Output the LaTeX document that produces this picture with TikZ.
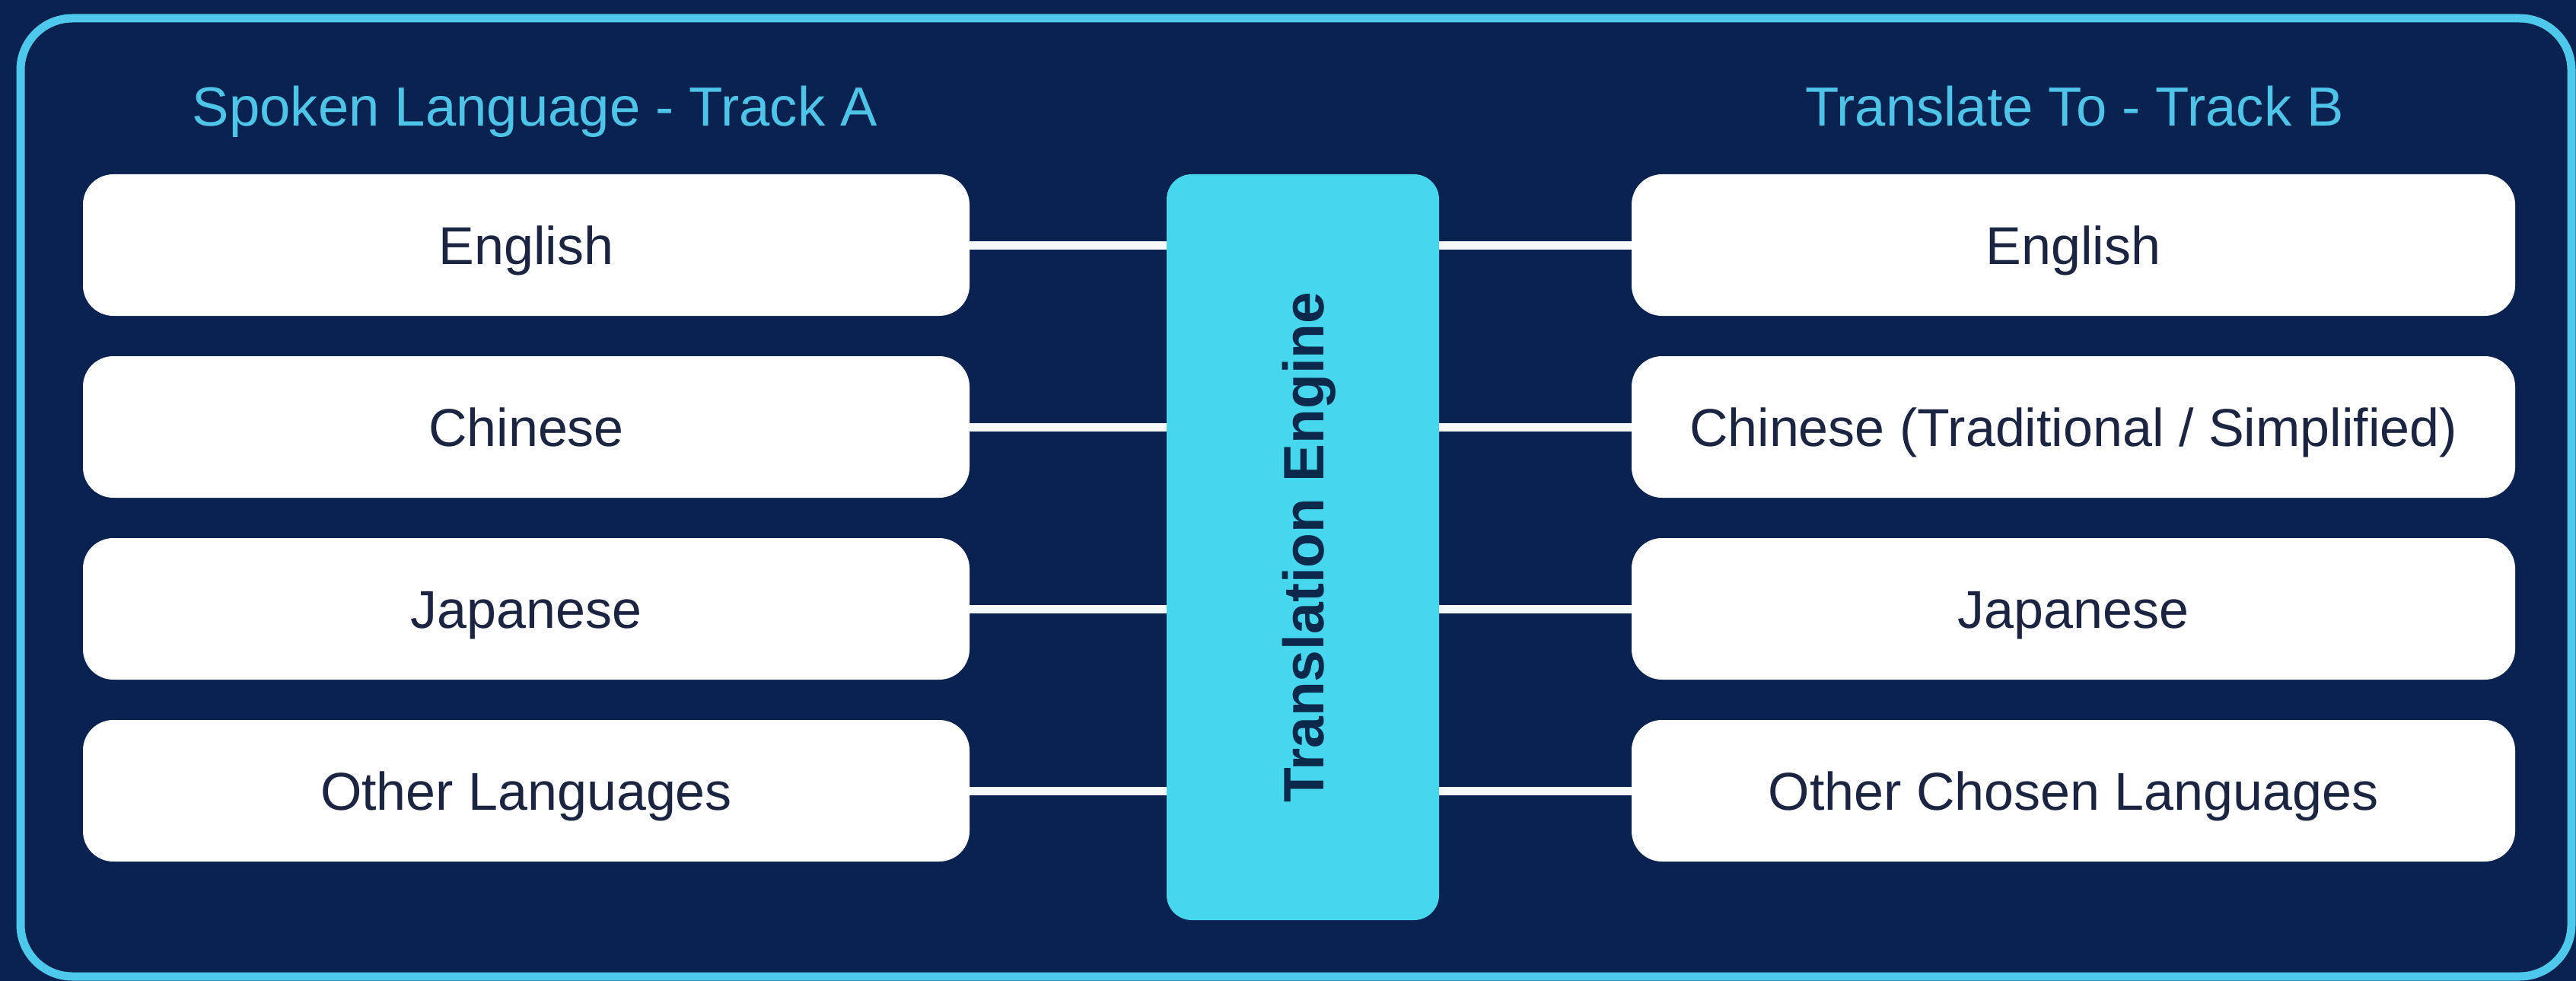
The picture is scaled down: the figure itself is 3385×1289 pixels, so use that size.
\documentclass[tikz,border=0pt]{standalone}
\usepackage{fontspec}
\setmainfont{Liberation Sans}
\definecolor{navy}{RGB}{9,34,80}
\definecolor{cyanline}{RGB}{78,200,235}
\definecolor{engfill}{RGB}{70,214,238}
\definecolor{titlecol}{RGB}{78,196,232}
\definecolor{boxtext}{RGB}{27,37,65}
\definecolor{engtextcol}{RGB}{12,40,74}
\definecolor{connwhite}{RGB}{246,249,252}
\begin{document}
\begin{tikzpicture}[x=1pt,y=-1pt,
  langbox/.style={fill=white, rounded corners=40pt, minimum width=1165pt,
    minimum height=186pt, inner sep=0pt, text height=51pt, text depth=0pt,
    text=boxtext, font=\fontsize{70}{84}\selectfont},
  rlangbox/.style={langbox, minimum width=1161pt},
  engine/.style={fill=engfill, rounded corners=33pt, minimum width=358pt,
    minimum height=980pt, inner sep=0pt},
  engtext/.style={text=engtextcol, inner sep=0pt, text height=54pt, text depth=0pt,
    font=\fontsize{75}{90}\selectfont\bfseries},
  tracktitle/.style={text=titlecol, inner sep=0pt, text height=52pt, text depth=0pt,
    font=\fontsize{72.5}{87}\selectfont},
  conn/.style={draw=connwhite, line width=11pt},
  frameline/.style={draw=cyanline, line width=11pt, rounded corners=68pt}]
\useasboundingbox (0,0) rectangle (3385,1289);
\fill[navy] (0,0) rectangle (3385,1289);
\draw[frameline] (27,24) rectangle (3379,1283);

% titles
\node[tracktitle] (ta) at (703,140) {Spoken Language - Track A};
\node[tracktitle] (tb) at (2726,140) {Translate To - Track B};

% engine
\node[engine] (eng) at (1712,719) {};
\node[engtext, rotate=90] (englabel) at (eng.center) {Translation Engine};

% left boxes
\node[langbox] (l1) at (691.5,322) {English};
\node[langbox] (l2) at (691.5,561) {Chinese};
\node[langbox] (l3) at (691.5,800) {Japanese};
\node[langbox] (l4) at (691.5,1039) {Other Languages};

% right boxes
\node[rlangbox] (r1) at (2724.5,322) {English};
\node[rlangbox] (r2) at (2724.5,561) {Chinese (Traditional / Simplified)};
\node[rlangbox] (r3) at (2724.5,800) {Japanese};
\node[rlangbox] (r4) at (2724.5,1039) {Other Chosen Languages};

% connectors
\foreach \i in {1,2,3,4}{
  \draw[conn] (l\i.east) -- (eng.west |- l\i.east);
  \draw[conn] (eng.east |- r\i.west) -- (r\i.west);
}
\end{tikzpicture}
\end{document}
